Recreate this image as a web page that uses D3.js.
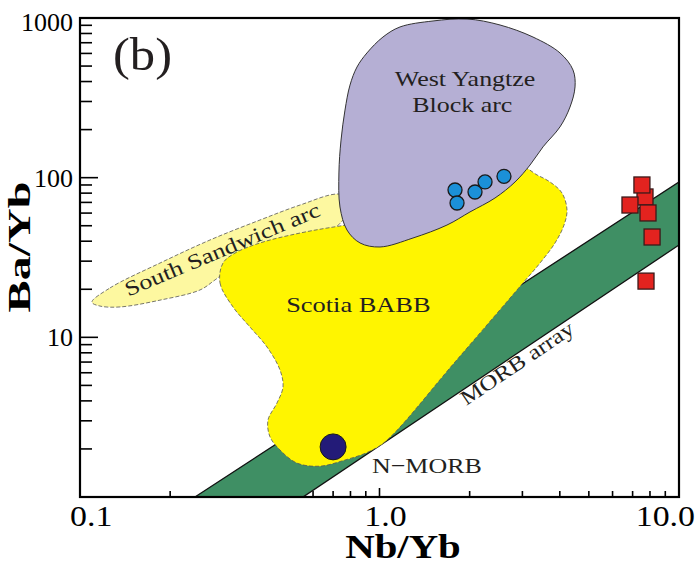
<!DOCTYPE html>
<html>
<head>
<meta charset="utf-8">
<script src="https://cdnjs.cloudflare.com/ajax/libs/d3/7.8.5/d3.min.js"></script>
<style>
body { margin: 0; background: #fff; }
svg { display: block; font-family: "Liberation Serif", "Times New Roman", serif; }
</style>
</head>
<body>
<div id="viz"></div>
<script>
var width = 697, height = 567,
    margin = {top: 18, right: 18, bottom: 70, left: 80};

// field outlines, [Nb/Yb, Ba/Yb]
var morbArray = [[0.242, 1], [10, 94], [10, 37.9], [0.555, 1]];

var southSandwich = [
  [0.1096, 16.6], [0.126, 20.4], [0.185, 29.2], [0.2716, 40.7], [0.399, 54.3],
  [0.543, 67.4], [0.727, 79], [0.828, 72.5], [0.633, 40.7], [0.342, 29.6],
  [0.2825, 22.9], [0.2516, 19.8], [0.185, 17.1], [0.136, 15.5], [0.1166, 15.7]
];

var scotiaBABB = [
  [0.3002, 29.2], [0.2934, 21.9], [0.3242, 15.5], [0.3695, 11.6], [0.4211, 8.70],
  [0.4654, 6.24], [0.4763, 4.89], [0.4547, 3.88], [0.4243, 3.03], [0.4309, 2.38],
  [0.4654, 1.97], [0.5305, 1.63], [0.6331, 1.56], [0.767, 1.705], [0.915, 1.91],
  [1.051, 2.24], [1.787, 7.01], [3.014, 21.9], [3.435, 29.2], [3.855, 39],
  [4.131, 50.5], [4.227, 62.7], [4.067, 80.2], [3.709, 94], [3.357, 104],
  [3.014, 115], [2.005, 77.9], [1.171, 55.9], [0.738, 49.8], [0.543, 45],
  [0.399, 39], [0.3292, 33.7]
];

var westYangtze = [
  [0.908, 604], [1.027, 760], [1.171, 879], [1.509, 958], [1.960, 986],
  [2.526, 904], [3.254, 760], [4.006, 604], [4.428, 472], [4.496, 370],
  [4.326, 277], [4.006, 208], [3.516, 156], [3.181, 120], [2.835, 94],
  [2.430, 74.6], [2.005, 61], [1.680, 50.5], [1.294, 41.9], [1.004, 36.8],
  [0.861, 39], [0.779, 47], [0.738, 65.5], [0.732, 107], [0.744, 172],
  [0.767, 265], [0.797, 380], [0.841, 493]
];

// samples
var circleSamples = [[1.787, 83.7], [1.815, 69.4], [2.084, 81.3], [2.251, 94], [2.604, 102]];
var squareSamples = [[7.70, 75.7], [7.52, 90], [6.86, 67.4], [7.88, 60.1], [8.13, 42.5], [7.76, 22.5]];
var nMorb = [[0.70, 2.06]];

var xTickValues = [0.1, 1, 10], xTickLabels = ['0.1', '1.0', '10.0'];
var yTickValues = [10, 100, 1000], yTickLabels = ['10', '100', '1000'];

var x = d3.scaleLog().domain([0.1, 10]).range([margin.left, width - margin.right]);
var y = d3.scaleLog().domain([1, 1000]).range([height - margin.bottom, margin.top]);

var svg = d3.select('#viz').append('svg')
  .attr('width', width)
  .attr('height', height);

var x0 = x.range()[0], x1 = x.range()[1], y0 = y.range()[0], y1 = y.range()[1];

// minor + major ticks (drawn under the fields)
var ticks = svg.append('g').attr('stroke', '#000').attr('stroke-width', 1.6);
x.ticks().forEach(function(v) {
  var major = xTickValues.some(function(t) { return Math.abs(t - v) < 1e-9; });
  ticks.append('line')
    .attr('x1', x(v)).attr('x2', x(v))
    .attr('y1', y0).attr('y2', y0 - (major ? 9 : 6));
});
y.ticks().forEach(function(v) {
  var major = yTickValues.concat([1]).some(function(t) { return Math.abs(t - v) < 1e-9; });
  ticks.append('line')
    .attr('x1', x0).attr('x2', x0 + (major ? 18 : 12))
    .attr('y1', y(v)).attr('y2', y(v));
});

var smooth = d3.line()
  .x(function(d) { return x(d[0]); })
  .y(function(d) { return y(d[1]); })
  .curve(d3.curveCatmullRomClosed.alpha(0.5));

var straight = d3.line()
  .x(function(d) { return x(d[0]); })
  .y(function(d) { return y(d[1]); })
  .curve(d3.curveLinearClosed);

svg.append('path')
  .datum(morbArray)
  .attr('d', straight)
  .attr('fill', '#3f8f64')
  .attr('stroke', '#111')
  .attr('stroke-width', 1.3);

svg.append('path')
  .datum(southSandwich)
  .attr('d', smooth)
  .attr('fill', '#fdf8a0')
  .attr('stroke', '#555')
  .attr('stroke-width', 0.8)
  .attr('stroke-dasharray', '4,2');

svg.append('path')
  .datum(scotiaBABB)
  .attr('d', smooth)
  .attr('fill', '#fff500')
  .attr('stroke', '#555')
  .attr('stroke-width', 0.8)
  .attr('stroke-dasharray', '4,2');

svg.append('path')
  .datum(westYangtze)
  .attr('d', smooth)
  .attr('fill', '#b5afd4')
  .attr('stroke', '#333')
  .attr('stroke-width', 1);

// frame
svg.append('rect')
  .attr('x', x0).attr('y', y1)
  .attr('width', x1 - x0).attr('height', y0 - y1)
  .attr('fill', 'none')
  .attr('stroke', '#000')
  .attr('stroke-width', 2.2);

// samples
svg.append('g').selectAll('circle')
  .data(circleSamples)
  .join('circle')
  .attr('cx', function(d) { return x(d[0]); })
  .attr('cy', function(d) { return y(d[1]); })
  .attr('r', 7)
  .attr('fill', '#1b90d8')
  .attr('stroke', '#1a1a1a')
  .attr('stroke-width', 1.3);

svg.append('g').selectAll('rect')
  .data(squareSamples)
  .join('rect')
  .attr('x', function(d) { return x(d[0]) - 8; })
  .attr('y', function(d) { return y(d[1]) - 8; })
  .attr('width', 16)
  .attr('height', 16)
  .attr('fill', '#e3231f')
  .attr('stroke', '#3a1a1a')
  .attr('stroke-width', 1.3);

svg.append('g').selectAll('circle')
  .data(nMorb)
  .join('circle')
  .attr('cx', function(d) { return x(d[0]); })
  .attr('cy', function(d) { return y(d[1]); })
  .attr('r', 13)
  .attr('fill', '#231b78')
  .attr('stroke', '#1a1a1a')
  .attr('stroke-width', 1);

// text helper: stretched serif text
function label(str, px, py, o) {
  o = o || {};
  return svg.append('text')
    .attr('transform', 'translate(' + px + ',' + py + ') rotate(' + (o.rotate || 0) + ') scale(' + (o.sx || 1) + ',1)')
    .attr('text-anchor', o.anchor || 'middle')
    .attr('font-size', o.size || 22)
    .attr('font-weight', o.weight || 'normal')
    .attr('fill', o.color || '#231f20')
    .text(str);
}

// tick labels
yTickValues.forEach(function(v, i) {
  label(yTickLabels[i], 73, y(v) + 9 + (i === 2 ? 4 : 0), {anchor: 'end', size: 26, color: '#000'});
});
xTickValues.forEach(function(v, i) {
  var last = i === xTickValues.length - 1;
  var px = i === 0 ? x(v) - 10 : last ? width - 2 : x(v) + 6;
  label(xTickLabels[i], px, y0 + 29, {anchor: i === 0 ? 'start' : last ? 'end' : 'middle', size: 30, sx: 1.13, color: '#000'});
});

// axis titles
label('Nb/Yb', 403, 558, {size: 34, sx: 1.2, weight: 'bold', color: '#000'});
label('Ba/Yb', 30, 247, {size: 31, sx: 1.55, weight: 'bold', color: '#000', rotate: -90});

// panel letter
label('(b)', 113, 70, {anchor: 'start', size: 46, sx: 1.1, color: '#231f20'});

// field names
label('West Yangtze', x(1.93), 86, {size: 22, sx: 1.18});
label('Block arc', x(1.89), 112, {size: 22, sx: 1.18});
label('Scotia BABB', x(0.85), 312, {size: 22, sx: 1.2});
label('South Sandwich arc', 225, 256, {size: 21, sx: 1.25, rotate: -22.8});
label('MORB array', 521, 369, {size: 21, sx: 1.2, rotate: -34});
label('N\u2212MORB', 372, 473, {anchor: 'start', size: 22, sx: 1.18});
</script>
</body>
</html>
